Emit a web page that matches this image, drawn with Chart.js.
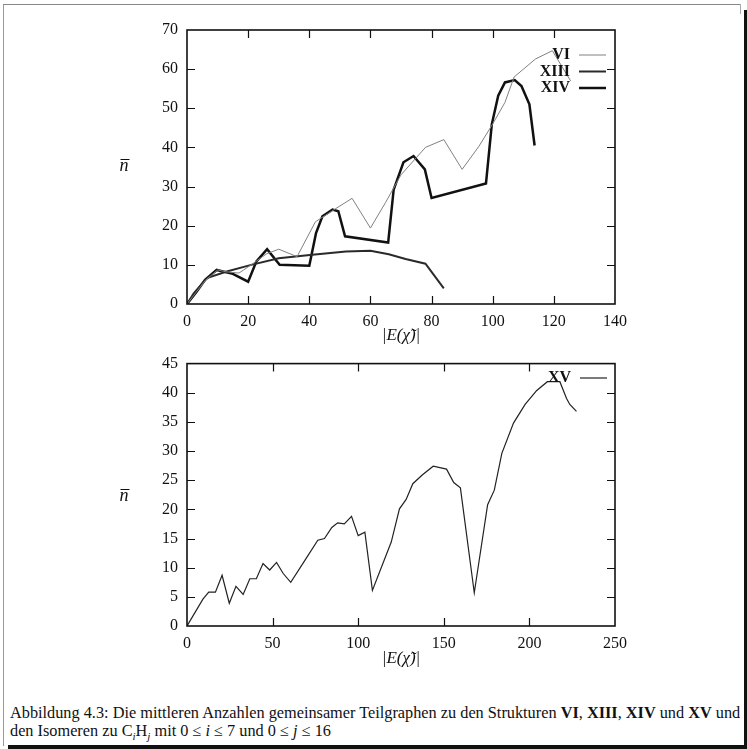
<!DOCTYPE html>
<html lang="de">
<head>
    <meta charset="UTF-8">
    <title>Abbildung 4.3</title>
    <script src="https://cdn.jsdelivr.net/npm/chart.js"></script>
    <style>
        body { margin: 0; background: #fff; }
        #page { position: relative; width: 747px; height: 749px; overflow: hidden; background: #fff; }
        .edge { position: absolute; }
        #topChart { position: absolute; left: 0; top: 0; }
        #bottomChart { position: absolute; left: 0; top: 345px; }
        #caption {
            position: absolute; left: 10px; top: 704px; width: 740px;
            font-family: "Liberation Serif", serif; font-size: 16.3px; line-height: 18px;
            color: #111; white-space: nowrap;
        }
    </style>
</head>
<body>
<div id="page">
    <div class="edge" style="left:3px;top:4px;width:1px;height:742px;background:#999"></div>
    <div class="edge" style="left:3px;top:4px;width:738px;height:1px;background:#888"></div>
    <div class="edge" style="left:740px;top:4px;width:1px;height:10px;background:#aaa"></div>
    <div class="edge" style="left:744px;top:10px;width:3px;height:739px;background:#111"></div>
    <div class="edge" style="left:8px;top:745px;width:739px;height:4px;background:#111"></div>

    <canvas id="topChart" width="747" height="350"></canvas>
    <canvas id="bottomChart" width="747" height="330"></canvas>

    <div id="caption">Abbildung 4.3: Die mittleren Anzahlen gemeinsamer Teilgraphen zu den Strukturen <b>VI</b>, <b>XIII</b>, <b>XIV</b> und <b>XV</b> und<br>den Isomeren zu C<sub style="font-size:11px"><i>i</i></sub>H<sub style="font-size:11px"><i>j</i></sub> mit 0 &le; <i>i</i> &le; 7 und 0 &le; <i>j</i> &le; 16</div>
</div>

<script>
    // oberes Diagramm
    const viE   = [0, 3, 6, 10, 13, 17, 21, 26, 30, 36, 42, 48.5, 54, 60, 65, 70, 78, 84, 90, 95.5, 100, 104, 107, 114, 119.5, 125.5];
    const viN   = [0, 3, 6, 8.7, 8.2, 7.9, 10, 12.8, 14, 12.1, 21, 24.3, 27, 19.4, 26, 33, 40, 42, 34.4, 40.3, 46, 51.5, 58, 62.6, 64.7, 57];

    const xiiiE = [0, 2.2, 6.5, 13, 21, 30, 41, 52, 60, 66, 71.5, 78, 84];
    const xiiiN = [0, 2.7, 6.6, 8.3, 10, 11.7, 12.6, 13.4, 13.6, 12.7, 11.5, 10.3, 4];

    const xivE  = [0, 3.2, 5.9, 9.7, 15, 20, 22.7, 26.2, 30.3, 40, 42.2, 44.3, 47.6, 49.5, 51.7, 65.8, 67.6, 70.8, 74.1, 77.8, 80, 97.8, 99.7, 101.8, 104, 107.2, 109.4, 112, 113.7];
    const xivN  = [0, 3.2, 6.2, 8.7, 7.7, 5.7, 10.9, 14, 10, 9.8, 18.1, 22.4, 24.1, 23.7, 17.3, 15.7, 29.2, 36.2, 37.8, 34.4, 27.1, 30.8, 45.9, 53.2, 56.6, 57.2, 55.7, 51, 40.5];

    // unteres Diagramm
    const xvE = [0, 9.3, 12.7, 16.6, 20.5, 24.7, 28.6, 32.8, 36.7, 40.5, 44.4, 48.3, 52.3, 56.2, 60.6, 68.1, 76.4, 80.3, 84.6, 88, 91.9, 96.1, 100, 103.9, 108.3, 119.3, 124.1, 128, 131.9, 137.4, 143.8, 151.6, 155.8, 159.7, 167.8, 175.6, 179.5, 183.9, 190.7, 197.5, 204.3, 210.5, 217.8, 221.7, 223.6, 227.5];
    const xvN = [0, 4.6, 5.8, 5.8, 8.7, 3.9, 6.8, 5.4, 8.1, 8.1, 10.7, 9.6, 10.9, 9, 7.5, 10.9, 14.7, 15, 16.9, 17.7, 17.5, 18.8, 15.5, 16.1, 6.1, 14.4, 20.1, 21.7, 24.4, 25.9, 27.4, 26.9, 24.6, 23.7, 5.7, 20.8, 23.3, 29.6, 34.8, 38, 40.4, 41.9, 41.9, 39, 38, 36.8];

    const topXTicks = [0, 20, 40, 60, 80, 100, 120, 140];
    const topYTicks = [0, 10, 20, 30, 40, 50, 60, 70];
    const botXTicks = [0, 50, 100, 150, 200, 250];
    const botYTicks = [0, 5, 10, 15, 20, 25, 30, 35, 40, 45];

    const serif = '"Liberation Serif", "DejaVu Serif", serif';

    function pts(xs, ys) {
        return xs.map((x, i) => ({ x: x, y: ys[i] }));
    }

    function line(label, xs, ys, color, width) {
        return {
            label: label,
            data: pts(xs, ys),
            borderColor: color,
            borderWidth: width,
            pointRadius: 0,
            tension: 0,
            fill: false
        };
    }

    // gnuplot-artiger Rahmen mit Innen-Ticks, y-Beschriftung und Legende
    const gnuplotBox = {
        id: 'gnuplotBox',
        afterDraw(chart, args, opts) {
            const { ctx, chartArea: a, scales } = chart;
            ctx.save();
            ctx.strokeStyle = '#111';
            ctx.lineWidth = 1.2;
            ctx.beginPath();
            scales.x.ticks.forEach(t => {
                const px = Math.round(scales.x.getPixelForValue(t.value)) + 0.5;
                if (px <= a.left + 1 || px >= a.right - 1) return;
                ctx.moveTo(px, a.bottom); ctx.lineTo(px, a.bottom - 8);
                ctx.moveTo(px, a.top); ctx.lineTo(px, a.top + 8);
            });
            scales.y.ticks.forEach(t => {
                const py = Math.round(scales.y.getPixelForValue(t.value)) + 0.5;
                if (py <= a.top + 1 || py >= a.bottom - 1) return;
                ctx.moveTo(a.left, py); ctx.lineTo(a.left + 8, py);
                ctx.moveTo(a.right, py); ctx.lineTo(a.right - 8, py);
            });
            ctx.stroke();

            ctx.lineWidth = 1.6;
            ctx.strokeRect(a.left, a.top, a.right - a.left, a.bottom - a.top);

            // y-Achsentitel: n mit Querstrich
            ctx.fillStyle = '#111';
            ctx.font = 'italic 18px "Liberation Serif", serif';
            ctx.textAlign = 'center';
            ctx.textBaseline = 'alphabetic';
            ctx.fillText('n', opts.yLabelX, opts.yLabelY + 5);
            const w = ctx.measureText('n').width;
            ctx.lineWidth = 1;
            ctx.beginPath();
            ctx.moveTo(opts.yLabelX - w / 2 + 1, opts.yLabelY - 6.5);
            ctx.lineTo(opts.yLabelX + w / 2 + 1, opts.yLabelY - 6.5);
            ctx.stroke();

            ctx.font = 'bold 16px ' + serif;
            ctx.textAlign = 'right';
            ctx.textBaseline = 'middle';
            chart.data.datasets.forEach((ds, i) => {
                const y = opts.legendY + i * opts.legendStep;
                ctx.fillText(ds.label, opts.legendX, y);
                ctx.strokeStyle = ds.borderColor;
                ctx.lineWidth = ds.borderWidth;
                ctx.beginPath();
                ctx.moveTo(opts.legendX + 9, y);
                ctx.lineTo(opts.legendX + 36, y);
                ctx.stroke();
            });
            ctx.restore();
        }
    };

    function axes(xMax, xTicks, yMax, yTicks, yWidth, xHeight, titlePad) {
        return {
            x: {
                type: 'linear', min: 0, max: xMax,
                afterBuildTicks: s => { s.ticks = xTicks.map(v => ({ value: v })); },
                afterFit: s => { s.height = xHeight; },
                grid: { display: false, drawTicks: false },
                border: { display: false },
                ticks: { color: '#111', font: { family: serif, size: 16 }, padding: 8, maxRotation: 0, autoSkip: false },
                title: {
                    display: true, text: '|E(\u03C7\u0303)|', color: '#111',
                    font: { family: serif, size: 17, style: 'italic' },
                    padding: { top: 0, bottom: titlePad }
                }
            },
            y: {
                type: 'linear', min: 0, max: yMax,
                afterBuildTicks: s => { s.ticks = yTicks.map(v => ({ value: v })); },
                afterFit: s => { s.width = yWidth; },
                grid: { display: false, drawTicks: false },
                border: { display: false },
                ticks: { color: '#111', font: { family: serif, size: 16 }, padding: 9, autoSkip: false }
            }
        };
    }

    new Chart(document.getElementById('topChart'), {
        type: 'line',
        data: {
            datasets: [
                line('VI', viE, viN, '#808080', 1),
                line('XIII', xiiiE, xiiiN, '#2a2a2a', 2),
                line('XIV', xivE, xivN, '#111', 2.5)
            ]
        },
        options: {
            responsive: false, animation: false, maintainAspectRatio: false,
            layout: { padding: { left: 0, right: 132, top: 30, bottom: 0 } },
            scales: axes(140, topXTicks, 70, topYTicks, 187, 46, 4),
            plugins: {
                legend: { display: false },
                tooltip: { enabled: false },
                gnuplotBox: { yLabelX: 124, yLabelY: 166, legendX: 570, legendY: 55, legendStep: 16.5 }
            }
        },
        plugins: [gnuplotBox]
    });

    new Chart(document.getElementById('bottomChart'), {
        type: 'line',
        data: {
            datasets: [
                line('XV', xvE, xvN, '#222', 1.2)
            ]
        },
        options: {
            responsive: false, animation: false, maintainAspectRatio: false,
            layout: { padding: { left: 0, right: 132, top: 10, bottom: 0 } },
            scales: axes(250, botXTicks, 45, botYTicks, 187, 49, 6),
            plugins: {
                legend: { display: false },
                tooltip: { enabled: false },
                gnuplotBox: { yLabelX: 124, yLabelY: 151, legendX: 571, legendY: 33, legendStep: 16 }
            }
        },
        plugins: [gnuplotBox]
    });
</script>
</body>
</html>
